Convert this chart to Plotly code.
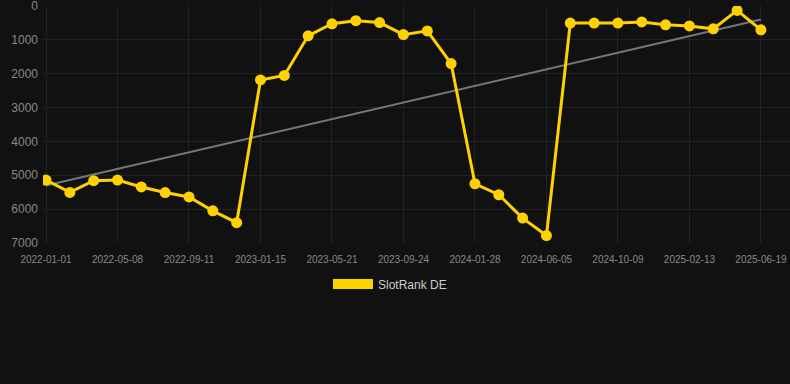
import plotly.graph_objects as go

dates = [
    "2022-01-01", "2022-02-12", "2022-03-26", "2022-05-08", "2022-06-19", "2022-07-31",
    "2022-09-11", "2022-10-23", "2022-12-04", "2023-01-15", "2023-02-26", "2023-04-09",
    "2023-05-21", "2023-07-02", "2023-08-13", "2023-09-24", "2023-11-05", "2023-12-17",
    "2024-01-28", "2024-03-10", "2024-04-21", "2024-06-05", "2024-07-17", "2024-08-28",
    "2024-10-09", "2024-11-20", "2025-01-01", "2025-02-13", "2025-03-27", "2025-05-08",
    "2025-06-19",
]
rank = [
    5140, 5505, 5160, 5140, 5345, 5510, 5640, 6050, 6400, 2185, 2050, 880,
    525, 435, 490, 845, 735, 1700, 5250, 5575, 6265, 6780, 505, 505,
    505, 470, 555, 590, 675, 130, 705,
]
trend_x = [dates[0], dates[-1]]
trend_y = [5300, 400]
tick_labels = dates[::3]
y_ticks = [0, 1000, 2000, 3000, 4000, 5000, 6000, 7000]

GOLD = "#FFD100"

fig = go.Figure()
fig.add_trace(go.Scatter(
    x=trend_x, y=trend_y, mode="lines",
    line=dict(color="#777777", width=2), showlegend=False, hoverinfo="skip",
))
fig.add_trace(go.Scatter(
    x=dates, y=rank, mode="lines+markers",
    line=dict(color=GOLD, width=3),
    marker=dict(color=GOLD, size=11),
    showlegend=False, name="SlotRank DE",
))
fig.add_trace(go.Scatter(
    x=[None], y=[None], mode="lines",
    line=dict(color=GOLD, width=12),
    name="SlotRank DE", showlegend=True,
))

fig.update_layout(
    width=790, height=384,
    margin=dict(l=43, r=0, t=6, b=141),
    paper_bgcolor="#111111", plot_bgcolor="#111111",
    font=dict(family="Arial, Liberation Sans, sans-serif", color="#888888"),
    showlegend=True,
    legend=dict(
        orientation="h", x=0.4645, xanchor="center", y=-0.173, yanchor="middle",
        font=dict(size=12, color="#cccccc"), itemwidth=40,
        bgcolor="rgba(0,0,0,0)",
    ),
    xaxis=dict(
        type="category", categoryorder="array", categoryarray=dates,
        range=[-0.126, 31.22],
        tickmode="array", tickvals=tick_labels, ticktext=tick_labels,
        tickfont=dict(size=10, color="#888888"),
        showgrid=True, gridcolor="#222222", gridwidth=1,
        zeroline=False, showline=False, ticks="",
        ticklabelstandoff=9, ticklabeloverflow="allow",
    ),
    yaxis=dict(
        range=[7000, 0], tickvals=y_ticks,
        tickfont=dict(size=12, color="#888888"),
        showgrid=True, gridcolor="#222222", gridwidth=1,
        zeroline=False, showline=False, ticks="",
        ticklabelstandoff=4, ticklabeloverflow="allow",
    ),
)

fig.write_html("out.html", config={"displayModeBar": False})
with open("out.html", "r", encoding="utf-8") as f:
    html = f.read()
html = html.replace("<body>", '<body style="margin:0;padding:0;background:#111111;">', 1)
with open("out.html", "w", encoding="utf-8") as f:
    f.write(html)
